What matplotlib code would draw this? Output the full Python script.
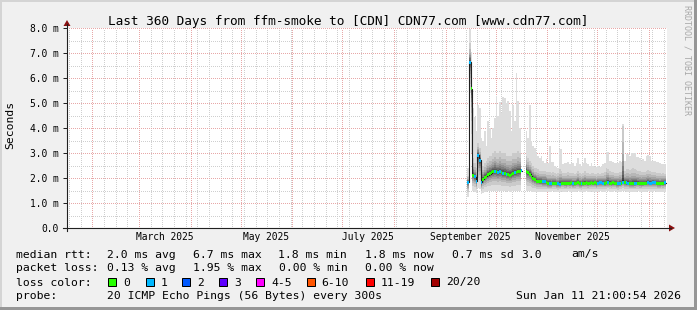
import numpy as np
import pandas as pd
import matplotlib
matplotlib.use("Agg")
import matplotlib.pyplot as plt
import matplotlib.dates as mdates
from matplotlib.patches import Rectangle, Polygon
from matplotlib.lines import Line2D
from datetime import datetime

W, H = 697, 310
start = datetime(2025, 1, 16, 21, 0, 54)
end = datetime(2026, 1, 11, 21, 0, 54)
first_day = "2025-09-14"
nan = float("nan")

# daily median rtt (ms) and lost pings out of 20
median_ms = [
    1.84, 6.63, 5.57, 2.12, 2.05, 1.88, 2.92, 2.72, 1.83, 1.95,
    2.03, 2.08, 2.14, 2.18, 2.21, 2.25, 2.27, 2.25, 2.23, 2.25,
    2.21, 2.20, 2.19, 2.16, 2.15, 2.12, 2.15, 2.19, 2.21, 2.24,
    2.25, 2.27, 2.29, nan, nan, 2.26, 2.21, 2.16, 2.08, 1.99,
    1.93, 1.88, 1.87, 1.86, 1.86, 1.85, 1.85, 1.83, 1.79, 1.78,
    1.77, 1.79, 1.80, 1.78, 1.77, 1.76, 1.79, 1.80, 1.79, 1.78,
    1.80, 1.79, 1.81, 1.78, 1.79, 1.80, 1.81, 1.78, 1.77, 1.79,
    1.80, 1.81, 1.79, 1.80, 1.82, 1.80, 1.81, 1.79, 1.80, 1.81,
    1.82, 1.80, 1.79, 1.81, 1.83, 1.80, 1.79, 1.81, 1.80, 1.78,
    1.77, 1.79, 1.80, 1.84, 1.82, 1.81, 1.80, 1.79, 1.77, 1.78,
    1.79, 1.80, 1.80, 1.79, 1.78, 1.79, 1.80, 1.80, 1.81, 1.80,
    1.80, 1.82, 1.81, 1.80, 1.79, 1.78, 1.80, 1.79, 1.81,
]
loss = [
    1, 1, 0, 0, 1, 1, 1, 1, 1, 0,
    0, 0, 0, 0, 0, 0, 1, 0, 1, 1,
    0, 1, 0, 1, 0, 0, 0, 0, 1, 0,
    0, 0, 1, 0, 0, 0, 0, 0, 0, 0,
    0, 0, 0, 0, 0, 1, 1, 0, 0, 1,
    1, 0, 0, 0, 1, 1, 0, 0, 0, 0,
    0, 0, 0, 1, 0, 0, 0, 0, 1, 0,
    0, 0, 0, 0, 0, 0, 0, 0, 1, 1,
    1, 1, 0, 0, 1, 0, 0, 0, 0, 0,
    1, 1, 0, 1, 0, 1, 1, 0, 0, 0,
    1, 1, 0, 0, 0, 0, 0, 0, 1, 1,
    1, 1, 1, 0, 0, 0, 0, 0, 1,
]
# smoke: lowest ping, upper edge of the dense part, highest ping (ms)
smoke_lo = [
    1.25, 5.40, 3.00, 1.50, 1.45, 1.40, 1.60, 1.55, 1.35, 1.40,
    1.45, 1.45, 1.48, 1.48, 1.50, 1.50, 1.48, 1.50, 1.48, 1.50,
    1.48, 1.47, 1.48, 1.46, 1.47, 1.45, 1.46, 1.48, 1.48, 1.50,
    1.50, 1.50, 1.52, nan, nan, 1.50, 1.48, 1.47, 1.45, 1.45,
    1.44, 1.43, 1.44, 1.45, 1.45, 1.45, 1.44, 1.45, 1.44, 1.45,
    1.46, 1.47, 1.45, 1.46, 1.44, 1.45, 1.47, 1.46, 1.45, 1.46,
    1.47, 1.45, 1.46, 1.44, 1.45, 1.46, 1.47, 1.45, 1.44, 1.46,
    1.46, 1.47, 1.45, 1.46, 1.47, 1.45, 1.46, 1.44, 1.45, 1.47,
    1.46, 1.45, 1.46, 1.47, 1.48, 1.46, 1.45, 1.46, 1.47, 1.45,
    1.44, 1.46, 1.45, 1.50, 1.47, 1.46, 1.45, 1.44, 1.45, 1.46,
    1.45, 1.46, 1.47, 1.45, 1.44, 1.46, 1.45, 1.46, 1.47, 1.46,
    1.45, 1.46, 1.47, 1.45, 1.44, 1.45, 1.46, 1.45, 1.46,
]
smoke_up = [
    2.10, 7.40, 6.00, 2.80, 2.60, 2.40, 3.40, 3.20, 2.30, 2.50,
    2.60, 2.70, 2.80, 2.90, 2.90, 3.00, 3.10, 3.00, 3.00, 3.10,
    3.00, 3.00, 3.00, 2.90, 2.90, 2.90, 2.90, 3.00, 3.00, 3.00,
    3.10, 3.00, 3.00, nan, nan, 2.90, 2.80, 2.70, 2.60, 2.50,
    2.40, 2.40, 2.35, 2.30, 2.30, 2.30, 2.30, 2.25, 2.25, 2.25,
    2.22, 2.25, 2.20, 2.18, 2.20, 2.35, 2.30, 2.22, 2.20, 2.22,
    2.24, 2.20, 2.22, 2.20, 2.18, 2.22, 2.30, 2.20, 2.18, 2.20,
    2.28, 2.22, 2.20, 2.18, 2.22, 2.20, 2.18, 2.16, 2.20, 2.18,
    2.20, 2.22, 2.24, 2.40, 2.38, 2.28, 2.26, 2.24, 2.22, 2.22,
    2.22, 2.26, 2.24, 4.10, 2.28, 2.35, 2.36, 2.32, 2.38, 2.40,
    2.38, 2.32, 2.30, 2.28, 2.25, 2.26, 2.25, 2.30, 2.32, 2.30,
    2.25, 2.24, 2.24, 2.22, 2.22, 2.20, 2.18, 2.20, 2.18,
]
smoke_hi = [
    2.40, 7.95, 7.05, 4.80, 4.45, 3.90, 4.90, 4.80, 3.60, 3.50,
    3.90, 3.30, 4.30, 4.00, 3.60, 4.00, 4.40, 5.30, 4.50, 5.05,
    4.60, 5.25, 5.20, 5.00, 5.10, 4.70, 3.90, 4.90, 4.30, 6.20,
    5.10, 4.00, 3.60, nan, nan, 3.90, 3.60, 4.90, 3.50, 3.30,
    3.20, 3.00, 2.90, 2.80, 2.90, 2.70, 2.60, 2.75, 2.60, 3.30,
    2.65, 2.65, 2.50, 2.45, 2.40, 3.15, 3.15, 2.55, 2.60, 2.60,
    2.65, 2.55, 2.60, 2.60, 2.50, 2.60, 2.80, 2.55, 2.50, 2.60,
    2.80, 2.60, 2.55, 2.50, 2.60, 2.50, 2.45, 2.45, 2.50, 2.45,
    2.50, 2.55, 2.60, 3.05, 3.05, 2.70, 2.70, 2.65, 2.60, 2.60,
    2.60, 2.70, 2.65, 4.15, 2.70, 2.95, 2.95, 2.90, 3.00, 3.00,
    3.00, 2.85, 2.85, 2.80, 2.70, 2.75, 2.70, 2.90, 2.92, 2.90,
    2.70, 2.70, 2.70, 2.65, 2.65, 2.60, 2.55, 2.55, 2.55,
]

loss_colors = ["#26ff00", "#00b8ff", "#0059ff", "#5e00ff",
               "#ff00ff", "#ff5500", "#ff0000", "#a10000"]
loss_labels = ["0", "1", "2", "3", "4-5", "6-10", "11-19", "20/20"]
y_ticks = [0, 1, 2, 3, 4, 5, 6, 7, 8]
y_labels = ["0.0", "1.0 m", "2.0 m", "3.0 m", "4.0 m", "5.0 m", "6.0 m", "7.0 m", "8.0 m"]
month_labels = ["March 2025", "May 2025", "July 2025", "September 2025", "November 2025"]

mono = "DejaVu Sans Mono"
fig = plt.figure(figsize=(W / 100, H / 100), dpi=100, facecolor="#f0f0f0")


def px(x, y):
    return x / W, 1 - y / H


ax = fig.add_axes([67 / W, (H - 228) / H, 600 / W, 200 / H])
ax.set_facecolor("white")
for s in ax.spines.values():
    s.set_visible(False)
x0, x1 = mdates.date2num(start), mdates.date2num(end)
ax.set_xlim(x0, x1)
ax.set_ylim(0, 8)

# grid: weekly/half-ms minor, monthly/ms major
minor = dict(color="#cfcfcf", lw=0.72, ls=(0, (1, 2)), antialiased=False)
major = dict(color="#e8a8a8", lw=0.72, ls=(0, (1, 2)), antialiased=False)
for d in pd.date_range("2025-01-18", end, freq="7D"):
    ax.axvline(mdates.date2num(d), zorder=0, **minor)
for v in np.arange(0.5, 8, 1.0):
    ax.axhline(v, zorder=0, **minor)
for d in pd.date_range("2025-02-01", end, freq="MS"):
    ax.axvline(mdates.date2num(d), zorder=1, **major)
for v in range(1, 9):
    ax.axhline(v, zorder=1, **major)

# smoke
days = pd.date_range(first_day, periods=len(median_ms), freq="D")
xd = mdates.date2num(days)
xe = np.append(xd, xd[-1] + 1)
m = np.array(median_ms, float)
lo = np.array(smoke_lo, float)
up = np.array(smoke_up, float)
hi = np.array(smoke_hi, float)


def ext(a):
    return np.append(a, a[-1])


low_frac = [0, .3, .5, .62, .72, .8, .86, .91, .95, .98]
up_frac = [None, None, .7, .5, .38, .28, .2, .13, .07, .03]
for k in range(10):
    g = int(190 / 10 * (9 - k)) + 50
    bottom = lo + (m - lo) * low_frac[k]
    if k == 0:
        top = hi
    elif k == 1:
        top = up
    else:
        top = m + (up - m) * up_frac[k]
    ax.fill_between(xe, ext(bottom), ext(top), step="post",
                    color="#%02x%02x%02x" % (g, g, g), lw=0, zorder=2)

# median line and loss colored bars
ax.step(xe, ext(m), where="post", color="#202020", lw=0.8, zorder=3)
ok = ~np.isnan(m)
ax.bar(xd[ok], 0.12, bottom=m[ok] - 0.06, width=1.0, align="edge",
       color=[loss_colors[l] for l in np.array(loss)[ok]], lw=0, zorder=4)

# ticks
ax.set_yticks(y_ticks)
ax.set_yticklabels(y_labels, family=mono, fontsize=6.9)
ax.tick_params(axis="y", length=3, width=0.72, color="#202020", pad=3.2)
month_starts = pd.date_range("2025-03-01", periods=11, freq="MS")
mids = []
for i in range(0, 10, 2):
    a = mdates.date2num(month_starts[i])
    b = mdates.date2num(month_starts[i + 1])
    mids.append((a + b) / 2)
ax.set_xticks(mids)
ax.set_xticklabels(month_labels, family=mono, fontsize=6.9)
ax.tick_params(axis="x", length=0, pad=3)

# axes with arrows
fig.add_artist(Line2D([63 / W, 671 / W], [1 - 228 / H] * 2, color="#202020", lw=0.8))
fig.add_artist(Line2D([67 / W] * 2, [1 - 231 / H, 1 - 24 / H], color="#202020", lw=0.8))
fig.add_artist(Polygon([px(67, 20), px(63.5, 26), px(70.5, 26)], closed=True,
                       transform=fig.transFigure, color="#8b1010", lw=0))
fig.add_artist(Polygon([px(675, 228), px(669, 224.5), px(669, 231.5)], closed=True,
                       transform=fig.transFigure, color="#8b1010", lw=0))

# titles
fig.text(*px(348, 24.5), "Last 360 Days from ffm-smoke to [CDN] CDN77.com [www.cdn77.com]",
         ha="center", va="baseline", family=mono, fontsize=9.2)
fig.text(*px(10.5, 125), "Seconds", rotation=90, ha="center", va="center",
         family=mono, fontsize=8.2)
fig.text(*px(687.5, 5), "RRDTOOL / TOBI OETIKER", rotation=270, ha="center", va="top",
         family=mono, fontsize=6.0, color="#a8a8a8")

# legend
line1 = [("median rtt:", 16), ("2.0 ms avg", 107.3), ("6.7 ms max", 193.3), ("1.8 ms min", 278),
         ("1.8 ms now", 365), ("0.7 ms sd", 451.7), ("3.0", 521.7), ("am/s", 571.7)]
line2 = [("packet loss:", 16), ("0.13 % avg", 107.3), ("1.95 % max", 193.3),
         ("0.00 % min", 279), ("0.00 % now", 365)]
line4 = [("probe:", 16), ("20 ICMP Echo Pings (56 Bytes) every 300s", 107.3)]
for txt, x in line1:
    fig.text(*px(x, 257.5), txt, family=mono, fontsize=8.2, va="baseline")
for txt, x in line2:
    fig.text(*px(x, 271), txt, family=mono, fontsize=8.2, va="baseline")
fig.text(*px(16, 285.5), "loss color:", family=mono, fontsize=8.2, va="baseline")
box_x = [108.3, 145.7, 182.3, 219.3, 256, 306.7, 365.7, 431]
for c, lab, bx in zip(loss_colors, loss_labels, box_x):
    fig.add_artist(Rectangle(((bx) / W, 1 - 286 / H), 8 / W, 8 / H, transform=fig.transFigure,
                             facecolor=c, edgecolor="black", lw=0.72))
    fig.text(*px(bx + 15, 285.5), lab, family=mono, fontsize=8.2, va="baseline")
for txt, x in line4:
    fig.text(*px(x, 299), txt, family=mono, fontsize=8.2, va="baseline")
fig.text(*px(681, 299), "Sun Jan 11 21:00:54 2026", family=mono, fontsize=8.2,
         va="baseline", ha="right")

# 3d frame
fig.add_artist(Rectangle((0, 1 - 2 / H), 1, 2 / H, transform=fig.transFigure, color="#d4d4d4", lw=0))
fig.add_artist(Rectangle((0, 0), 2 / W, 1, transform=fig.transFigure, color="#d4d4d4", lw=0))
fig.add_artist(Rectangle((0, 0), 1, 3 / H, transform=fig.transFigure, color="#969696", lw=0))
fig.add_artist(Rectangle((1 - 3 / W, 0), 3 / W, 1, transform=fig.transFigure, color="#969696", lw=0))

fig.savefig("out.png", dpi=100, facecolor=fig.get_facecolor())
